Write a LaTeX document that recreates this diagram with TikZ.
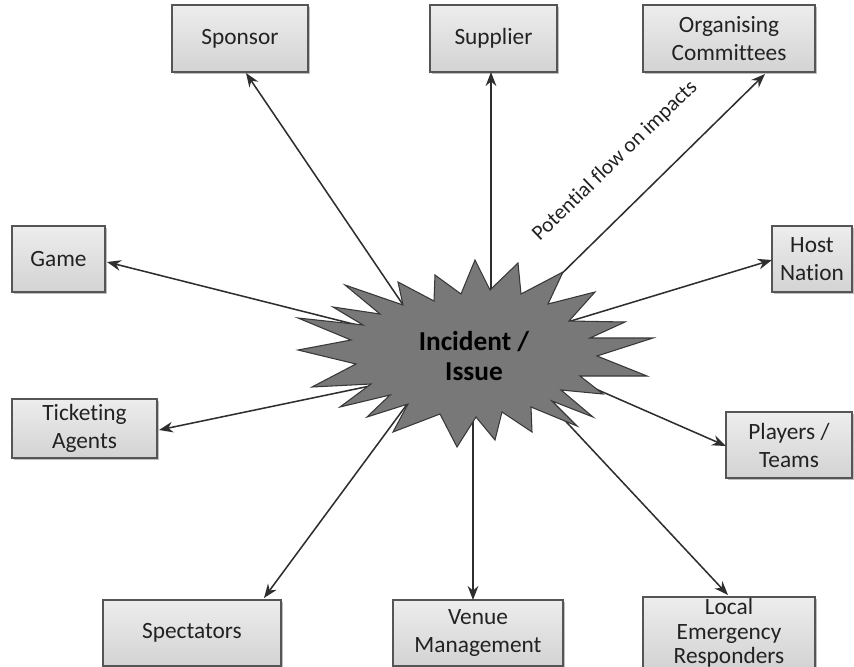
\documentclass[tikz,border=0pt]{standalone}
\usepackage{fontspec}
\setmainfont{Carlito}[Ligatures=NoCommon]
\usetikzlibrary{arrows.meta,shadows}
\definecolor{boxline}{HTML}{555555}
\definecolor{boxtop}{HTML}{EDEDED}
\definecolor{boxbot}{HTML}{D3D3D3}
\definecolor{txt}{HTML}{222222}
\definecolor{arrc}{HTML}{2E2E2E}
\definecolor{starfill}{HTML}{787878}
\definecolor{starline}{HTML}{383838}
\begin{document}
\begin{tikzpicture}[x=0.75pt,y=-0.75pt,
  box/.style={draw=boxline, line width=0.8pt, top color=boxtop, bottom color=boxbot,
    align=center, text=txt, font=\fontsize{17.5}{21}\selectfont, inner sep=0pt,
    drop shadow={shadow xshift=1.5pt, shadow yshift=-1.5pt, fill=black, opacity=0.25}},
  arr/.style={draw=arrc, line width=1.15pt, -{Stealth[length=10.5pt,width=8pt]}},
  starshape/.style={fill=starfill, draw=starline, line width=0.8pt, line join=miter}]
\useasboundingbox (0,0) rectangle (854,667);

% boxes
\node[box, minimum width=102pt, minimum height=50.25pt] (sponsor) at (240,38.5) {Sponsor};
\node[box, minimum width=95.25pt, minimum height=50.25pt] (supplier) at (493.5,38.5) {Supplier};
\node[box, minimum width=129pt, minimum height=50.25pt] (org) at (729,38.5) {Organising\\Committees};
\node[box, minimum width=69.75pt, minimum height=49.5pt] (game) at (58.5,259) {Game};
\node[box, minimum width=60pt, minimum height=49.5pt] (host) at (812,259) {Host\\Nation};
\node[box, minimum width=108.75pt, minimum height=44.25pt] (ticket) at (84.5,428.5) {Ticketing\\Agents};
\node[box, minimum width=94.5pt, minimum height=49.5pt] (players) at (789,445) {Players /\\Teams};
\node[box, minimum width=133.5pt, minimum height=49.5pt] (spect) at (192,633) {Spectators};
\node[box, minimum width=127.5pt, minimum height=49.5pt] (venue) at (478,633) {Venue\\Management};
\node[box, minimum width=129pt, minimum height=54pt, font=\fontsize{17.5}{18.5}\selectfont] (local) at (729,633) {Local\\Emergency\\Responders};

% connector ends
\coordinate (t1) at (414,321);  \coordinate (h1) at (246,73);
\coordinate (t2) at (491,310);  \coordinate (h2) at (491,72);
\coordinate (t3) at (542,293);  \coordinate (h3) at (765,74);
\coordinate (t4) at (369,328);  \coordinate (h4) at (107,262);
\coordinate (t5) at (551,327);  \coordinate (h5) at (772,260);
\coordinate (t6) at (394,381);  \coordinate (h6) at (159,430);
\coordinate (t7) at (557,372);  \coordinate (h7) at (726,446);
\coordinate (t8) at (425,380);  \coordinate (h8) at (264,598);
\coordinate (t9) at (473,400);  \coordinate (h9) at (473,600);
\coordinate (t10) at (543,397); \coordinate (h10) at (728,595);

\draw[arr] (t1) -- (h1);
\draw[arr] (t2) -- (h2);
\draw[arr] (t3) -- (h3);
\draw[arr] (t4) -- (h4);
\draw[arr] (t5) -- (h5);
\draw[arr] (t6) -- (h6);
\draw[arr] (t7) -- (h7);
\draw[arr] (t8) -- (h8);
\draw[arr] (t9) -- (h9);
\draw[arr] (t10) -- (h10);

% starburst
\draw[starshape] (475,260) -- (490,290) -- (518,263) -- (521,294) -- (563,272) -- (548,304)
  -- (595,292) -- (569,321) -- (625,322) -- (590,338) -- (653,338) -- (597,356)
  -- (647,376) -- (580,376) -- (603,394) -- (561,390) -- (593,417) -- (552,401)
  -- (577,426) -- (531,407) -- (532,432) -- (502,412) -- (495,440) -- (476,417)
  -- (457,447) -- (440,414) -- (393,432) -- (408,404) -- (367,417) -- (390,395)
  -- (340,407) -- (371,384) -- (312,387) -- (356,364) -- (298,350) -- (351,340)
  -- (298,318) -- (363,325) -- (333,307) -- (380,314) -- (345,285) -- (403,305)
  -- (398,282) -- (434,301) -- (435,275) -- (461,294) -- cycle;

\node[align=center, font=\fontsize{20.5}{23}\bfseries, text=black, inner sep=0pt] (inc) at (474,356) {Incident /\\Issue};

\node[rotate=44, font=\fontsize{16}{19}\selectfont, text=txt, inner sep=0pt] (lbl) at (615,161) {Potential flow on impacts};
\end{tikzpicture}
\end{document}
